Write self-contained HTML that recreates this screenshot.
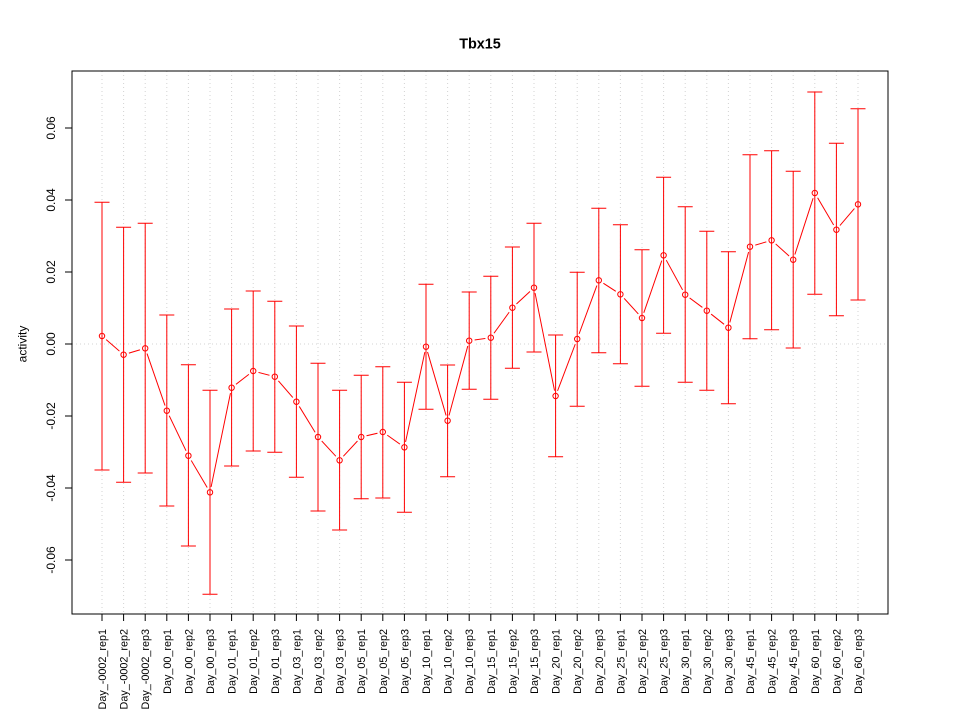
<!DOCTYPE html>
<html>
<head>
<meta charset="utf-8">
<style>
html,body{margin:0;padding:0;background:#fff;}
svg{display:block;}
text{font-family:"Liberation Sans",Arial,sans-serif;fill:#000;}
</style>
</head>
<body>
<svg width="960" height="720" viewBox="0 0 960 720" xmlns="http://www.w3.org/2000/svg">
<rect x="0" y="0" width="960" height="720" fill="#fff"/>
<!-- grid -->
<g stroke="#d3d3d3" stroke-width="1" stroke-dasharray="1,3" fill="none">
<line x1="102" y1="71" x2="102" y2="614"/><line x1="123.6" y1="71" x2="123.6" y2="614"/><line x1="145.2" y1="71" x2="145.2" y2="614"/><line x1="166.8" y1="71" x2="166.8" y2="614"/><line x1="188.4" y1="71" x2="188.4" y2="614"/><line x1="210" y1="71" x2="210" y2="614"/><line x1="231.6" y1="71" x2="231.6" y2="614"/><line x1="253.2" y1="71" x2="253.2" y2="614"/><line x1="274.8" y1="71" x2="274.8" y2="614"/><line x1="296.4" y1="71" x2="296.4" y2="614"/><line x1="318" y1="71" x2="318" y2="614"/><line x1="339.6" y1="71" x2="339.6" y2="614"/><line x1="361.2" y1="71" x2="361.2" y2="614"/><line x1="382.8" y1="71" x2="382.8" y2="614"/><line x1="404.4" y1="71" x2="404.4" y2="614"/><line x1="426" y1="71" x2="426" y2="614"/><line x1="447.6" y1="71" x2="447.6" y2="614"/><line x1="469.2" y1="71" x2="469.2" y2="614"/><line x1="490.8" y1="71" x2="490.8" y2="614"/><line x1="512.4" y1="71" x2="512.4" y2="614"/><line x1="534" y1="71" x2="534" y2="614"/><line x1="555.6" y1="71" x2="555.6" y2="614"/><line x1="577.2" y1="71" x2="577.2" y2="614"/><line x1="598.8" y1="71" x2="598.8" y2="614"/><line x1="620.4" y1="71" x2="620.4" y2="614"/><line x1="642" y1="71" x2="642" y2="614"/><line x1="663.6" y1="71" x2="663.6" y2="614"/><line x1="685.2" y1="71" x2="685.2" y2="614"/><line x1="706.8" y1="71" x2="706.8" y2="614"/><line x1="728.4" y1="71" x2="728.4" y2="614"/><line x1="750" y1="71" x2="750" y2="614"/><line x1="771.6" y1="71" x2="771.6" y2="614"/><line x1="793.2" y1="71" x2="793.2" y2="614"/><line x1="814.8" y1="71" x2="814.8" y2="614"/><line x1="836.4" y1="71" x2="836.4" y2="614"/><line x1="858" y1="71" x2="858" y2="614"/>
<line x1="72" y1="344" x2="888" y2="344"/>
</g>

<!-- connecting line -->
<polyline fill="none" stroke="#ff0000" stroke-width="1" points="102,336 123.6,354.7 145.2,348.3 166.8,410.7 188.4,455.7 210,492.3 231.6,387.7 253.2,371 274.8,376.7 296.4,401.7 318,437 339.6,460.3 361.2,437 382.8,432 404.4,447.3 426,346.7 447.6,420.7 469.2,340.7 490.8,337.7 512.4,307.7 534,287.7 555.6,396 577.2,339 598.8,280.3 620.4,294.3 642,318 663.6,255.3 685.2,294.7 706.8,310.7 728.4,327.7 750,246.7 771.6,240.3 793.2,259.7 814.8,193 836.4,229.7 858,204.3"/>

<!-- gaps around points -->
<g fill="#fff" stroke="none">
<circle cx="102" cy="336" r="5.5"/><circle cx="123.6" cy="354.7" r="5.5"/><circle cx="145.2" cy="348.3" r="5.5"/><circle cx="166.8" cy="410.7" r="5.5"/><circle cx="188.4" cy="455.7" r="5.5"/><circle cx="210" cy="492.3" r="5.5"/><circle cx="231.6" cy="387.7" r="5.5"/><circle cx="253.2" cy="371" r="5.5"/><circle cx="274.8" cy="376.7" r="5.5"/><circle cx="296.4" cy="401.7" r="5.5"/><circle cx="318" cy="437" r="5.5"/><circle cx="339.6" cy="460.3" r="5.5"/><circle cx="361.2" cy="437" r="5.5"/><circle cx="382.8" cy="432" r="5.5"/><circle cx="404.4" cy="447.3" r="5.5"/><circle cx="426" cy="346.7" r="5.5"/><circle cx="447.6" cy="420.7" r="5.5"/><circle cx="469.2" cy="340.7" r="5.5"/><circle cx="490.8" cy="337.7" r="5.5"/><circle cx="512.4" cy="307.7" r="5.5"/><circle cx="534" cy="287.7" r="5.5"/><circle cx="555.6" cy="396" r="5.5"/><circle cx="577.2" cy="339" r="5.5"/><circle cx="598.8" cy="280.3" r="5.5"/><circle cx="620.4" cy="294.3" r="5.5"/><circle cx="642" cy="318" r="5.5"/><circle cx="663.6" cy="255.3" r="5.5"/><circle cx="685.2" cy="294.7" r="5.5"/><circle cx="706.8" cy="310.7" r="5.5"/><circle cx="728.4" cy="327.7" r="5.5"/><circle cx="750" cy="246.7" r="5.5"/><circle cx="771.6" cy="240.3" r="5.5"/><circle cx="793.2" cy="259.7" r="5.5"/><circle cx="814.8" cy="193" r="5.5"/><circle cx="836.4" cy="229.7" r="5.5"/><circle cx="858" cy="204.3" r="5.5"/>
</g>

<!-- error bars -->
<g stroke="#ff0000" stroke-width="1" fill="none">
<path d="M102 202.3V470M94.5 202.3H109.5M94.5 470H109.5"/>
<path d="M123.6 227.3V482.3M116.1 227.3H131.1M116.1 482.3H131.1"/>
<path d="M145.2 223.3V473M137.7 223.3H152.7M137.7 473H152.7"/>
<path d="M166.8 315V506M159.3 315H174.3M159.3 506H174.3"/>
<path d="M188.4 364.7V546M180.9 364.7H195.9M180.9 546H195.9"/>
<path d="M210 390.3V594.3M202.5 390.3H217.5M202.5 594.3H217.5"/>
<path d="M231.6 309V466M224.1 309H239.1M224.1 466H239.1"/>
<path d="M253.2 291V451M245.7 291H260.7M245.7 451H260.7"/>
<path d="M274.8 301.3V452.3M267.3 301.3H282.3M267.3 452.3H282.3"/>
<path d="M296.4 326V477.3M288.9 326H303.9M288.9 477.3H303.9"/>
<path d="M318 363.3V511M310.5 363.3H325.5M310.5 511H325.5"/>
<path d="M339.6 390.3V530M332.1 390.3H347.1M332.1 530H347.1"/>
<path d="M361.2 375.3V498.7M353.7 375.3H368.7M353.7 498.7H368.7"/>
<path d="M382.8 366.7V498M375.3 366.7H390.3M375.3 498H390.3"/>
<path d="M404.4 382.3V512.3M396.9 382.3H411.9M396.9 512.3H411.9"/>
<path d="M426 284.3V409.3M418.5 284.3H433.5M418.5 409.3H433.5"/>
<path d="M447.6 365V476.7M440.1 365H455.1M440.1 476.7H455.1"/>
<path d="M469.2 292V389.3M461.7 292H476.7M461.7 389.3H476.7"/>
<path d="M490.8 276.3V399.3M483.3 276.3H498.3M483.3 399.3H498.3"/>
<path d="M512.4 247V368.3M504.9 247H519.9M504.9 368.3H519.9"/>
<path d="M534 223.3V352M526.5 223.3H541.5M526.5 352H541.5"/>
<path d="M555.6 335V456.7M548.1 335H563.1M548.1 456.7H563.1"/>
<path d="M577.2 272.3V406.3M569.7 272.3H584.7M569.7 406.3H584.7"/>
<path d="M598.8 208.3V352.7M591.3 208.3H606.3M591.3 352.7H606.3"/>
<path d="M620.4 224.7V363.7M612.9 224.7H627.9M612.9 363.7H627.9"/>
<path d="M642 249.7V386.3M634.5 249.7H649.5M634.5 386.3H649.5"/>
<path d="M663.6 177.3V333.3M656.1 177.3H671.1M656.1 333.3H671.1"/>
<path d="M685.2 206.7V382.3M677.7 206.7H692.7M677.7 382.3H692.7"/>
<path d="M706.8 231.3V390.3M699.3 231.3H714.3M699.3 390.3H714.3"/>
<path d="M728.4 251.7V403.7M720.9 251.7H735.9M720.9 403.7H735.9"/>
<path d="M750 154.7V338.7M742.5 154.7H757.5M742.5 338.7H757.5"/>
<path d="M771.6 150.7V329.7M764.1 150.7H779.1M764.1 329.7H779.1"/>
<path d="M793.2 171.3V348M785.7 171.3H800.7M785.7 348H800.7"/>
<path d="M814.8 92V294.3M807.3 92H822.3M807.3 294.3H822.3"/>
<path d="M836.4 143.3V315.7M828.9 143.3H843.9M828.9 315.7H843.9"/>
<path d="M858 108.7V300M850.5 108.7H865.5M850.5 300H865.5"/>
</g>

<!-- point markers -->
<g fill="none" stroke="#ff0000" stroke-width="1">
<circle cx="102" cy="336" r="2.7"/><circle cx="123.6" cy="354.7" r="2.7"/><circle cx="145.2" cy="348.3" r="2.7"/><circle cx="166.8" cy="410.7" r="2.7"/><circle cx="188.4" cy="455.7" r="2.7"/><circle cx="210" cy="492.3" r="2.7"/><circle cx="231.6" cy="387.7" r="2.7"/><circle cx="253.2" cy="371" r="2.7"/><circle cx="274.8" cy="376.7" r="2.7"/><circle cx="296.4" cy="401.7" r="2.7"/><circle cx="318" cy="437" r="2.7"/><circle cx="339.6" cy="460.3" r="2.7"/><circle cx="361.2" cy="437" r="2.7"/><circle cx="382.8" cy="432" r="2.7"/><circle cx="404.4" cy="447.3" r="2.7"/><circle cx="426" cy="346.7" r="2.7"/><circle cx="447.6" cy="420.7" r="2.7"/><circle cx="469.2" cy="340.7" r="2.7"/><circle cx="490.8" cy="337.7" r="2.7"/><circle cx="512.4" cy="307.7" r="2.7"/><circle cx="534" cy="287.7" r="2.7"/><circle cx="555.6" cy="396" r="2.7"/><circle cx="577.2" cy="339" r="2.7"/><circle cx="598.8" cy="280.3" r="2.7"/><circle cx="620.4" cy="294.3" r="2.7"/><circle cx="642" cy="318" r="2.7"/><circle cx="663.6" cy="255.3" r="2.7"/><circle cx="685.2" cy="294.7" r="2.7"/><circle cx="706.8" cy="310.7" r="2.7"/><circle cx="728.4" cy="327.7" r="2.7"/><circle cx="750" cy="246.7" r="2.7"/><circle cx="771.6" cy="240.3" r="2.7"/><circle cx="793.2" cy="259.7" r="2.7"/><circle cx="814.8" cy="193" r="2.7"/><circle cx="836.4" cy="229.7" r="2.7"/><circle cx="858" cy="204.3" r="2.7"/>
</g>

<!-- box -->
<rect x="72" y="71" width="816" height="543" fill="none" stroke="#000" stroke-width="1"/>

<!-- axes -->
<g stroke="#000" stroke-width="1" fill="none">
<line x1="72" y1="128" x2="72" y2="560"/>
<line x1="65" y1="128" x2="72" y2="128"/><line x1="65" y1="200" x2="72" y2="200"/><line x1="65" y1="272" x2="72" y2="272"/><line x1="65" y1="344" x2="72" y2="344"/><line x1="65" y1="416" x2="72" y2="416"/><line x1="65" y1="488" x2="72" y2="488"/><line x1="65" y1="560" x2="72" y2="560"/>
<line x1="102" y1="614" x2="858" y2="614"/>
<path d="M102 614v7M123.6 614v7M145.2 614v7M166.8 614v7M188.4 614v7M210 614v7M231.6 614v7M253.2 614v7M274.8 614v7M296.4 614v7M318 614v7M339.6 614v7M361.2 614v7M382.8 614v7M404.4 614v7M426 614v7M447.6 614v7M469.2 614v7M490.8 614v7M512.4 614v7M534 614v7M555.6 614v7M577.2 614v7M598.8 614v7M620.4 614v7M642 614v7M663.6 614v7M685.2 614v7M706.8 614v7M728.4 614v7M750 614v7M771.6 614v7M793.2 614v7M814.8 614v7M836.4 614v7M858 614v7"/>
</g>

<!-- y tick labels -->
<g font-size="12" text-anchor="middle">
<text transform="translate(55,128) rotate(-90)">0.06</text>
<text transform="translate(55,200) rotate(-90)">0.04</text>
<text transform="translate(55,272) rotate(-90)">0.02</text>
<text transform="translate(55,344) rotate(-90)">0.00</text>
<text transform="translate(55,416) rotate(-90)">-0.02</text>
<text transform="translate(55,488) rotate(-90)">-0.04</text>
<text transform="translate(55,560) rotate(-90)">-0.06</text>
</g>

<!-- x tick labels -->
<g font-size="10.8" text-anchor="end">
<text transform="translate(106,629) rotate(-90)">Day_-0002_rep1</text>
<text transform="translate(127.6,629) rotate(-90)">Day_-0002_rep2</text>
<text transform="translate(149.2,629) rotate(-90)">Day_-0002_rep3</text>
<text transform="translate(170.8,629) rotate(-90)">Day_00_rep1</text>
<text transform="translate(192.4,629) rotate(-90)">Day_00_rep2</text>
<text transform="translate(214,629) rotate(-90)">Day_00_rep3</text>
<text transform="translate(235.6,629) rotate(-90)">Day_01_rep1</text>
<text transform="translate(257.2,629) rotate(-90)">Day_01_rep2</text>
<text transform="translate(278.8,629) rotate(-90)">Day_01_rep3</text>
<text transform="translate(300.4,629) rotate(-90)">Day_03_rep1</text>
<text transform="translate(322,629) rotate(-90)">Day_03_rep2</text>
<text transform="translate(343.6,629) rotate(-90)">Day_03_rep3</text>
<text transform="translate(365.2,629) rotate(-90)">Day_05_rep1</text>
<text transform="translate(386.8,629) rotate(-90)">Day_05_rep2</text>
<text transform="translate(408.4,629) rotate(-90)">Day_05_rep3</text>
<text transform="translate(430,629) rotate(-90)">Day_10_rep1</text>
<text transform="translate(451.6,629) rotate(-90)">Day_10_rep2</text>
<text transform="translate(473.2,629) rotate(-90)">Day_10_rep3</text>
<text transform="translate(494.8,629) rotate(-90)">Day_15_rep1</text>
<text transform="translate(516.4,629) rotate(-90)">Day_15_rep2</text>
<text transform="translate(538,629) rotate(-90)">Day_15_rep3</text>
<text transform="translate(559.6,629) rotate(-90)">Day_20_rep1</text>
<text transform="translate(581.2,629) rotate(-90)">Day_20_rep2</text>
<text transform="translate(602.8,629) rotate(-90)">Day_20_rep3</text>
<text transform="translate(624.4,629) rotate(-90)">Day_25_rep1</text>
<text transform="translate(646,629) rotate(-90)">Day_25_rep2</text>
<text transform="translate(667.6,629) rotate(-90)">Day_25_rep3</text>
<text transform="translate(689.2,629) rotate(-90)">Day_30_rep1</text>
<text transform="translate(710.8,629) rotate(-90)">Day_30_rep2</text>
<text transform="translate(732.4,629) rotate(-90)">Day_30_rep3</text>
<text transform="translate(754,629) rotate(-90)">Day_45_rep1</text>
<text transform="translate(775.6,629) rotate(-90)">Day_45_rep2</text>
<text transform="translate(797.2,629) rotate(-90)">Day_45_rep3</text>
<text transform="translate(818.8,629) rotate(-90)">Day_60_rep1</text>
<text transform="translate(840.4,629) rotate(-90)">Day_60_rep2</text>
<text transform="translate(862,629) rotate(-90)">Day_60_rep3</text>
</g>

<!-- axis title -->
<text transform="translate(26.5,344) rotate(-90)" font-size="12" text-anchor="middle">activity</text>

<!-- main title -->
<text x="480" y="48.3" font-size="14.4" font-weight="bold" text-anchor="middle">Tbx15</text>
</svg>
</body>
</html>
